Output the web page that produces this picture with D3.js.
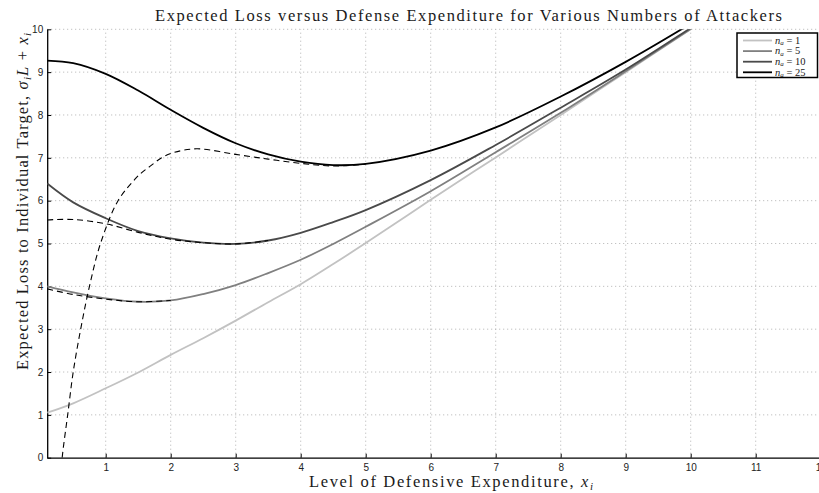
<!DOCTYPE html>
<html>
<head>
<meta charset="utf-8">
<script src="https://cdn.jsdelivr.net/npm/d3@7"></script>
<style>
  html, body { margin: 0; padding: 0; background: #fff; }
  svg { display: block; }
  .tick text { font-family: "Liberation Sans", Arial, sans-serif; font-size: 10px; fill: #222; }
  .serif { font-family: "Liberation Serif", "Times New Roman", serif; fill: #1a1a1a; }
</style>
</head>
<body>
<svg id="chart" width="819" height="493"></svg>
<script>
// Level of defensive expenditure sampled for the solid curves
const xs = [0.1, 0.5, 1, 1.5, 2, 2.5, 3, 3.5, 4, 4.5, 5, 6, 7, 8, 9, 10, 10.5];

// Expected loss for each number of attackers (solid curves)
const lossNa1  = [1.05, 1.27, 1.62, 1.99, 2.40, 2.79, 3.20, 3.63, 4.05, 4.52, 5.01, 6.02, 7.01, 8.00, 9.00, 10.00, 10.50];
const lossNa5  = [4.00, 3.86, 3.72, 3.64, 3.67, 3.82, 4.03, 4.31, 4.62, 4.99, 5.39, 6.22, 7.13, 8.05, 9.02, 10.01, 10.51];
const lossNa10 = [6.40, 5.96, 5.59, 5.29, 5.12, 5.02, 4.99, 5.07, 5.25, 5.50, 5.78, 6.48, 7.30, 8.17, 9.06, 10.03, 10.52];
const lossNa25 = [9.27, 9.21, 8.96, 8.57, 8.12, 7.70, 7.34, 7.08, 6.91, 6.83, 6.86, 7.17, 7.71, 8.43, 9.24, 10.13, 10.60];

// Approximate (dashed) curves
const approx5x  = [0.1, 0.5, 1, 1.5, 2];
const approx5y  = [3.94, 3.81, 3.70, 3.64, 3.67];
const approx10x = [0.1, 0.5, 1, 1.5, 2, 2.5, 3, 3.5];
const approx10y = [5.55, 5.56, 5.46, 5.26, 5.10, 5.02, 4.99, 5.07];
const approx25x = [0.33, 0.35, 0.415, 0.5, 0.615, 0.75, 0.92, 1.19, 1.45, 1.55, 1.68, 1.86, 2.04, 2.4, 3, 3.5, 4, 4.5, 5];
const approx25y = [0, 0.26, 1, 2, 3, 4, 5, 6, 6.5, 6.65, 6.8, 7.0, 7.12, 7.21, 7.08, 6.97, 6.87, 6.81, 6.85];

const legendLabels = ["1", "5", "10", "25"];
const seriesColors = ["#c2c2c2", "#808080", "#4a4a4a", "#000000"];
const xTicks = [1, 2, 3, 4, 5, 6, 7, 8, 9, 10, 11, 12];
const yTicks = [0, 1, 2, 3, 4, 5, 6, 7, 8, 9, 10];

const svg = d3.select("#chart");
const x = d3.scaleLinear().domain([0.1, 12]).range([47.2, 820.7]);
const y = d3.scaleLinear().domain([0, 10]).range([457.7, 29.3]);

svg.append("defs").append("clipPath").attr("id", "plotClip")
  .append("rect").attr("x", x(0.1)).attr("y", y(10))
  .attr("width", x(12) - x(0.1)).attr("height", y(0) - y(10));

// Dotted grid
const grid = svg.append("g").attr("stroke", "#a0a0a0").attr("stroke-width", 0.8)
  .attr("stroke-dasharray", "1,3");
grid.selectAll("line.v").data(xTicks).join("line").attr("class", "v")
  .attr("x1", d => x(d)).attr("x2", d => x(d)).attr("y1", y(0)).attr("y2", y(10));
grid.selectAll("line.h").data(yTicks.filter(d => d > 0)).join("line").attr("class", "h")
  .attr("x1", x(0.1)).attr("x2", x(12)).attr("y1", d => y(d)).attr("y2", d => y(d));

// Axes with inward ticks
const xAxis = svg.append("g").attr("transform", `translate(0,${y(0)})`)
  .call(d3.axisBottom(x).tickValues(xTicks).tickFormat(d3.format("d")).tickSizeInner(-4).tickSizeOuter(0).tickPadding(6));
const yAxis = svg.append("g").attr("transform", `translate(${x(0.1)},0)`)
  .call(d3.axisLeft(y).tickValues(yTicks).tickFormat(d3.format("d")).tickSizeInner(-4).tickSizeOuter(0).tickPadding(4));
[xAxis, yAxis].forEach(g => {
  g.select(".domain").attr("stroke", "#000").attr("stroke-width", 1.3);
  g.selectAll(".tick line").attr("stroke", "#000").attr("stroke-width", 1);
});

const plot = svg.append("g").attr("clip-path", "url(#plotClip)");
const line = d3.line().x(d => x(d[0])).y(d => y(d[1])).curve(d3.curveCatmullRom.alpha(0.5));

const solids = [lossNa1, lossNa5, lossNa10, lossNa25];
solids.forEach((vals, i) => {
  plot.append("path").datum(xs.map((v, k) => [v, vals[k]]))
    .attr("fill", "none").attr("stroke", seriesColors[i]).attr("stroke-width", 1.8)
    .attr("d", line);
});

const dashed = [[approx5x, approx5y], [approx10x, approx10y], [approx25x, approx25y]];
dashed.forEach(([dx, dy]) => {
  plot.append("path").datum(dx.map((v, k) => [v, dy[k]]))
    .attr("fill", "none").attr("stroke", "#000").attr("stroke-width", 1.1)
    .attr("stroke-dasharray", "6,4").attr("d", line);
});

// Title
svg.append("text").attr("class", "serif").attr("x", 155).attr("y", 20.5)
  .attr("font-size", 16.5).attr("textLength", 627).attr("lengthAdjust", "spacing")
  .text("Expected Loss versus Defense Expenditure for Various Numbers of Attackers");

// X axis label
const xl = svg.append("text").attr("class", "serif").attr("x", 309).attr("y", 487)
  .attr("font-size", 16.5).attr("textLength", 284).attr("lengthAdjust", "spacing");
xl.append("tspan").text("Level of Defensive Expenditure, ");
xl.append("tspan").attr("font-style", "italic").text("x");
xl.append("tspan").attr("font-style", "italic").attr("font-size", 11).attr("dy", 3).text("i");

// Y axis label
const yl = svg.append("text").attr("class", "serif")
  .attr("transform", "translate(28,370) rotate(-90)")
  .attr("font-size", 16.5).attr("textLength", 337).attr("lengthAdjust", "spacing");
yl.append("tspan").text("Expected Loss to Individual Target, ");
yl.append("tspan").attr("font-style", "italic").text("σ");
yl.append("tspan").attr("font-style", "italic").attr("font-size", 11).attr("dy", 3).text("i");
yl.append("tspan").attr("font-style", "italic").attr("dy", -3).text("L");
yl.append("tspan").text(" + ");
yl.append("tspan").attr("font-style", "italic").text("x");
yl.append("tspan").attr("font-style", "italic").attr("font-size", 11).attr("dy", 3).text("i");

// Legend
const lg = svg.append("g");
lg.append("rect").attr("x", 737).attr("y", 33).attr("width", 80.5).attr("height", 44.5)
  .attr("fill", "#fff").attr("stroke", "#000").attr("stroke-width", 1.5);
legendLabels.forEach((lab, i) => {
  const cy = 40.5 + i * 10.6;
  lg.append("line").attr("x1", 743).attr("x2", 772).attr("y1", cy).attr("y2", cy)
    .attr("stroke", seriesColors[i]).attr("stroke-width", 1.8);
  const t = lg.append("text").attr("class", "serif").attr("x", 775).attr("y", cy + 3.2).attr("font-size", 10.5);
  t.append("tspan").attr("font-style", "italic").text("n");
  t.append("tspan").attr("font-style", "italic").attr("font-size", 7).attr("dy", 1.5).text("a");
  t.append("tspan").attr("dy", -1.5).text(" = " + lab);
});
</script>
</body>
</html>
